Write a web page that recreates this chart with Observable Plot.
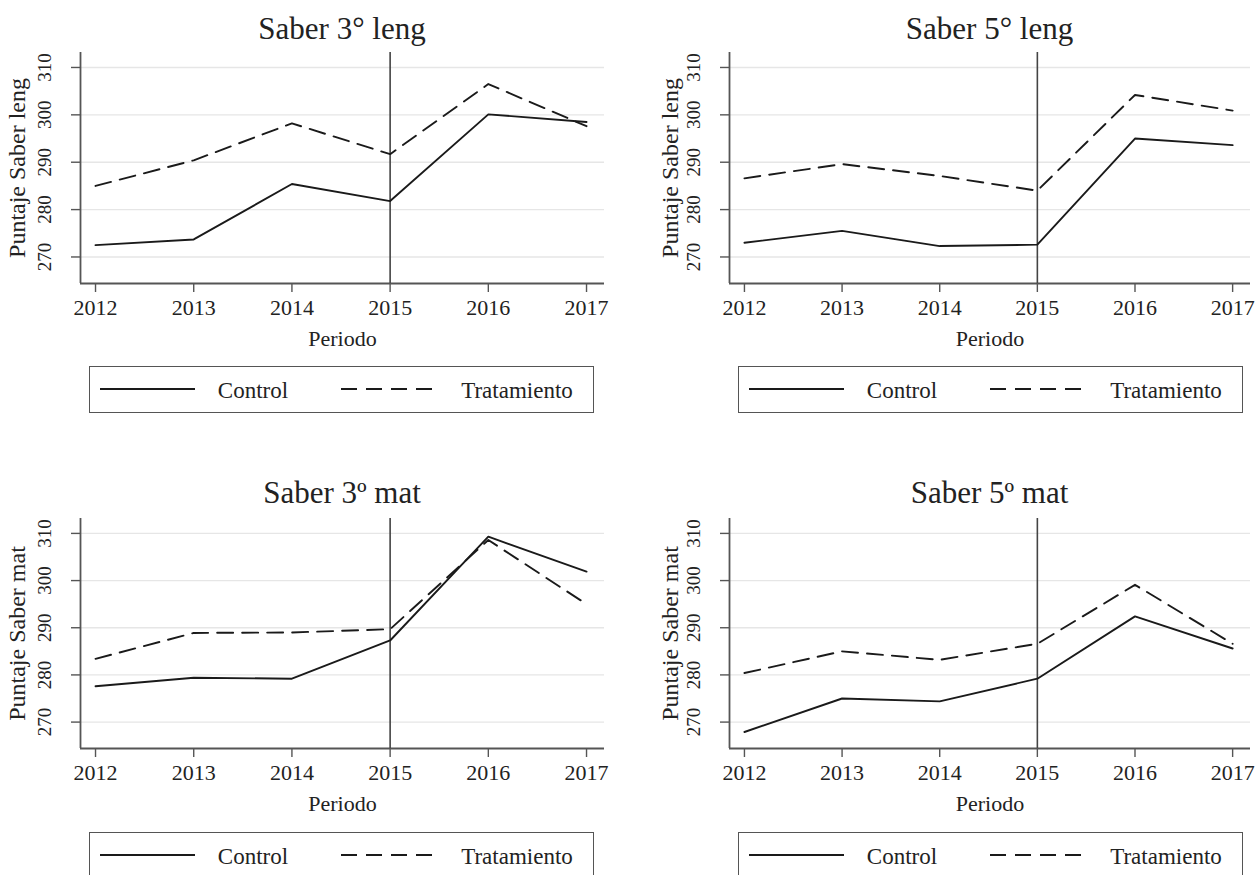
<!DOCTYPE html>
<html><head><meta charset="utf-8">
<script src="https://cdn.jsdelivr.net/npm/d3@7"></script>
<script src="https://cdn.jsdelivr.net/npm/@observablehq/plot@0.6"></script>
<style>
body{margin:0;background:#fff;}
#wrap{position:relative;width:1258px;height:875px;overflow:hidden;font-family:"Liberation Serif",serif;color:#222;background:#fff;}
.title{position:absolute;font-size:31px;line-height:31px;white-space:nowrap;transform:translateX(-50%);color:#222;}
.plot{position:absolute;}
.legend{position:absolute;border:1.6px solid #555;box-sizing:border-box;background:#fff;}
.legend svg{position:absolute;left:0;top:0;}
.ltext{position:absolute;font-size:23px;line-height:23px;transform:translate(-50%,-50%);white-space:nowrap;color:#222;}
</style></head>
<body><div id="wrap"></div>
<script>
// ---- data ----
const years = [2012, 2013, 2014, 2015, 2016, 2017];
const yTicks = [270, 280, 290, 300, 310];
const treatmentYear = 2015;
const seriesNames = ["Control", "Tratamiento"];
const titles = ["Saber 3° leng", "Saber 5° leng", "Saber 3º mat", "Saber 5º mat"];
const yLabels = ["Puntaje Saber leng", "Puntaje Saber leng", "Puntaje Saber mat", "Puntaje Saber mat"];
const xLabel = "Periodo";
const leng3Control = [272.5, 273.7, 285.4, 281.8, 300.1, 298.5];
const leng3Treat   = [285.0, 290.4, 298.2, 291.7, 306.5, 297.6];
const leng5Control = [273.0, 275.5, 272.3, 272.6, 295.0, 293.6];
const leng5Treat   = [286.6, 289.6, 287.1, 284.0, 304.2, 300.9];
const mat3Control  = [277.6, 279.4, 279.2, 287.3, 309.3, 301.9];
const mat3Treat    = [283.4, 288.9, 289.0, 289.7, 308.6, 295.0];
const mat5Control  = [267.9, 275.0, 274.4, 279.2, 292.4, 285.6];
const mat5Treat    = [280.4, 285.0, 283.2, 286.6, 299.1, 286.6];

const controls = [leng3Control, leng5Control, mat3Control, mat5Control];
const treats = [leng3Treat, leng5Treat, mat3Treat, mat5Treat];

// ---- layout ----
const layout = [
  {left: 0,   top: 48,  ml: 80,  mr: 25, fh: 231, titleTop: 13,  legLeft: 89,  legTop: 366, ylo: 73},
  {left: 629, top: 48,  ml: 100, mr: 8,  fh: 231, titleTop: 13,  legLeft: 738, legTop: 366, ylo: 69},
  {left: 0,   top: 514, ml: 80,  mr: 25, fh: 230, titleTop: 477, legLeft: 89,  legTop: 832, ylo: 73},
  {left: 629, top: 514, ml: 100, mr: 8,  fh: 230, titleTop: 477, legLeft: 738, legTop: 832, ylo: 69}
];
const xDomain = [2011.847, 2017.183];
const yDomain = [264.4, 313.16];
const ink = "#1a1a1a";
const axisInk = "#555";
const dash = "16,9";

const wrap = document.getElementById("wrap");

layout.forEach((L, i) => {
  const data = years.map((yr, k) => ({year: yr, control: controls[i][k], treat: treats[i][k]}));
  const mt = 4, mb = 70;
  const chart = Plot.plot({
    width: 629,
    height: mt + L.fh + mb,
    marginLeft: L.ml, marginRight: L.mr, marginTop: mt, marginBottom: mb,
    style: {fontFamily: "Liberation Serif, serif", color: "#222", background: "transparent", overflow: "visible"},
    x: {domain: xDomain, labelArrow: "none"},
    y: {domain: yDomain, labelArrow: "none"},
    marks: [
      Plot.gridY(yTicks, {stroke: "#e6e6e6", strokeOpacity: 1, strokeWidth: 1.4}),
      Plot.ruleX([xDomain[0]], {stroke: axisInk, strokeWidth: 1.8}),
      Plot.ruleY([yDomain[0]], {stroke: axisInk, strokeWidth: 1.8}),
      Plot.axisX(years, {tickFormat: d => String(d), tickSize: 9, tickPadding: 7, fontSize: 22, stroke: axisInk, strokeWidth: 1.4,
        label: xLabel, labelArrow: "none", labelAnchor: "center", labelOffset: 62}),
      Plot.axisY(yTicks, {tickSize: 9, tickPadding: 21, tickRotate: -90, fontSize: 19, stroke: axisInk, strokeWidth: 1.4, label: null}),
      Plot.axisY([], {tickSize: 0, fontSize: 24, label: yLabels[i], labelArrow: "none", labelAnchor: "center", labelOffset: L.ylo}),
      Plot.ruleX([treatmentYear], {stroke: "#444", strokeWidth: 1.6}),
      Plot.line(data, {x: "year", y: "control", stroke: ink, strokeWidth: 1.9}),
      Plot.line(data, {x: "year", y: "treat", stroke: ink, strokeWidth: 1.9, strokeDasharray: dash})
    ]
  });
  chart.classList.add("plot");
  chart.style.left = L.left + "px";
  chart.style.top = L.top + "px";
  wrap.appendChild(chart);

  // title
  const t = document.createElement("div");
  t.className = "title";
  t.textContent = titles[i];
  t.style.left = (L.left + L.ml + (629 - L.ml - L.mr) / 2) + "px";
  t.style.top = L.titleTop + "px";
  wrap.appendChild(t);

  // legend
  const lg = document.createElement("div");
  lg.className = "legend";
  lg.style.left = L.legLeft + "px";
  lg.style.top = L.legTop + "px";
  lg.style.width = "505px";
  lg.style.height = "47px";
  const ns = "http://www.w3.org/2000/svg";
  const sv = document.createElementNS(ns, "svg");
  sv.setAttribute("width", 505); sv.setAttribute("height", 47);
  [[10, 105, null], [251, 346, dash]].forEach(([a, b, d]) => {
    const ln = document.createElementNS(ns, "line");
    ln.setAttribute("x1", a); ln.setAttribute("x2", b);
    ln.setAttribute("y1", 22); ln.setAttribute("y2", 22);
    ln.setAttribute("stroke", ink); ln.setAttribute("stroke-width", 1.9);
    if (d) ln.setAttribute("stroke-dasharray", d);
    sv.appendChild(ln);
  });
  lg.appendChild(sv);
  [[163, seriesNames[0]], [427, seriesNames[1]]].forEach(([cx, s]) => {
    const d = document.createElement("div");
    d.className = "ltext";
    d.textContent = s;
    d.style.left = cx + "px";
    d.style.top = "23px";
    lg.appendChild(d);
  });
  wrap.appendChild(lg);
});
</script>
</body></html>
